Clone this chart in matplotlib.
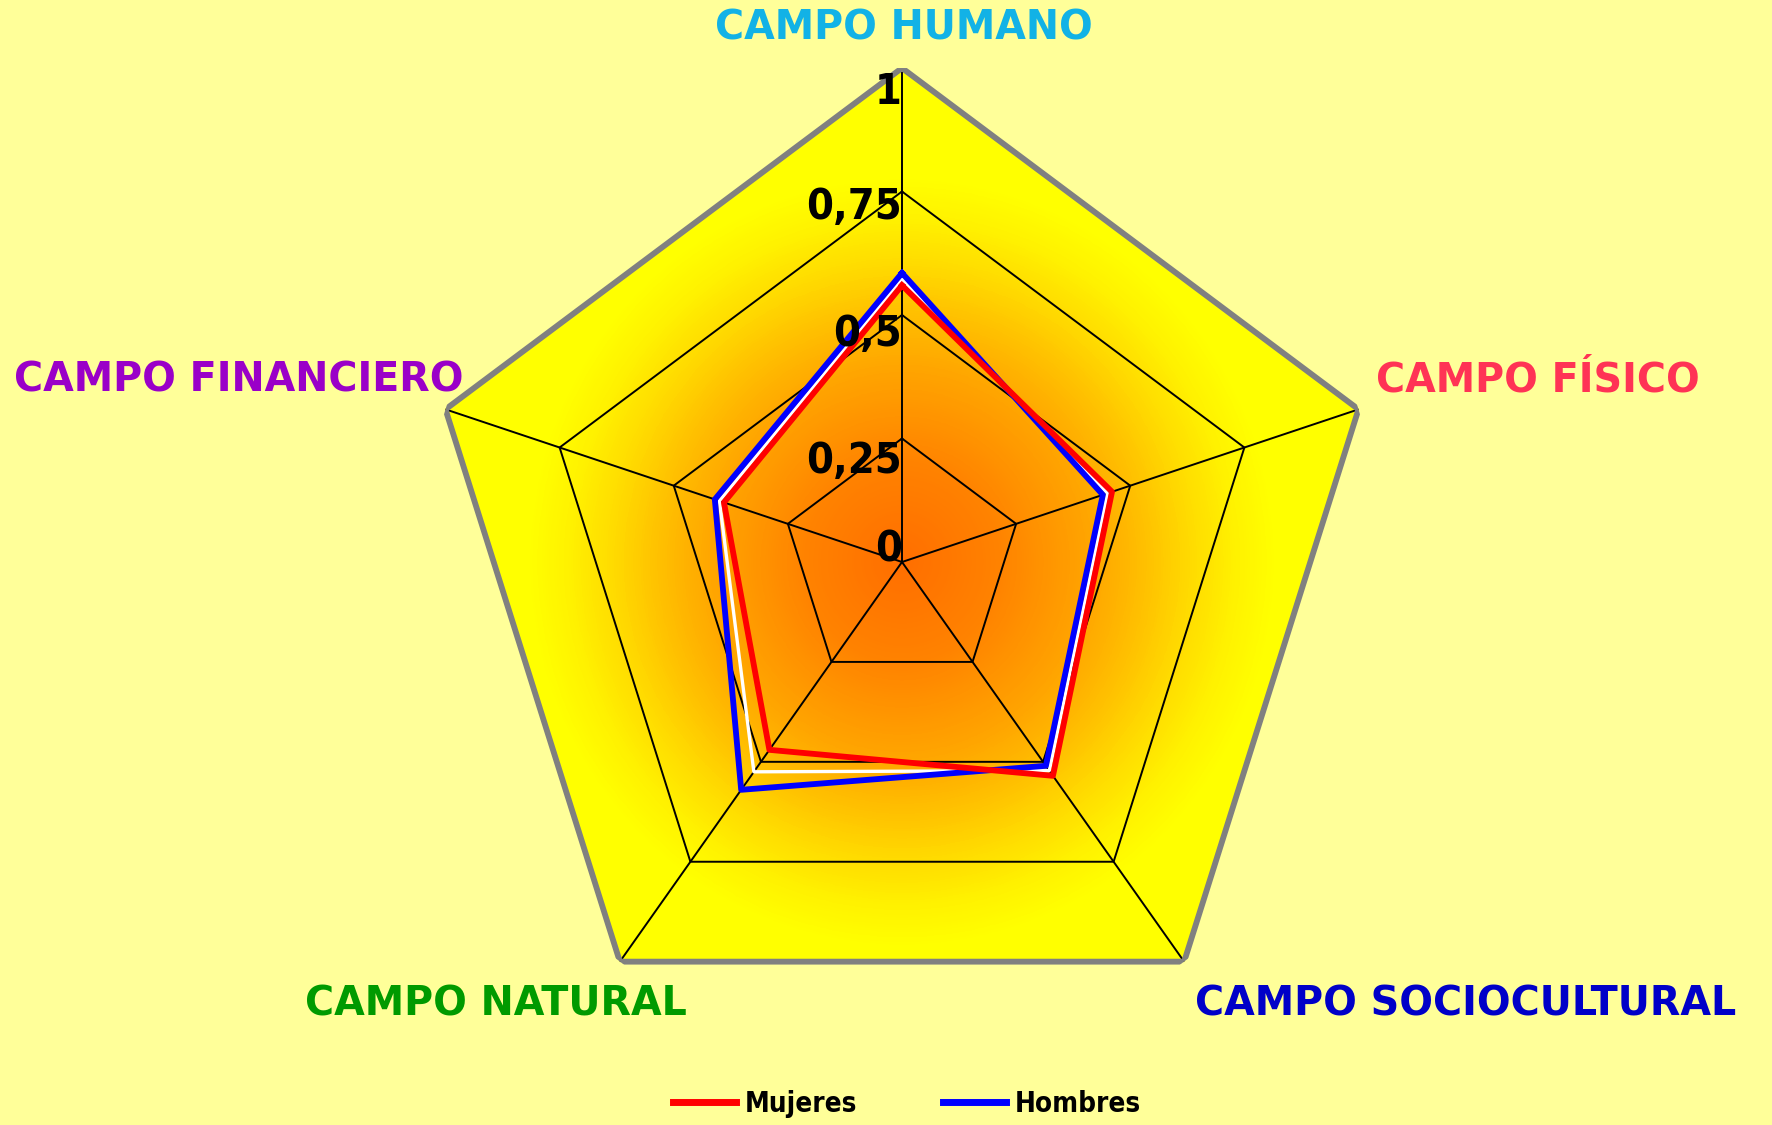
import numpy as np
import matplotlib
matplotlib.use("Agg")
import matplotlib.pyplot as plt
from matplotlib.colors import LinearSegmentedColormap
from matplotlib.patches import Polygon
from matplotlib.lines import Line2D

# ---------------- data ----------------
categories = ["CAMPO HUMANO", "CAMPO FÍSICO", "CAMPO SOCIOCULTURAL",
              "CAMPO NATURAL", "CAMPO FINANCIERO"]
cat_colors = ["#12B2E6", "#FF3355", "#0000C8", "#009A00", "#9A00C8"]
mujeres = [0.56, 0.46, 0.535, 0.47, 0.39]
hombres = [0.585, 0.44, 0.51, 0.57, 0.41]
total = [0.572, 0.45, 0.522, 0.525, 0.40]
ring_levels = [0.25, 0.5, 0.75, 1.0]
tick_labels = ["0", "0,25", "0,5", "0,75", "1"]
tick_values = [0, 0.25, 0.5, 0.75, 1.0]

W, H = 1772, 1125
fig = plt.figure(figsize=(W / 100, H / 100), dpi=100, facecolor="#FFFF99")

cx, cy = 902, 562          # centre in pixels (from top)
Rv, Rh = 494, 480          # vertical / horizontal radius in pixels
ax = fig.add_axes([(cx - Rh) / W, (H - cy - Rv) / H, 2 * Rh / W, 2 * Rv / H],
                  projection="polar")
ax.set_aspect("auto")
ax.set_theta_zero_location("N")
ax.set_theta_direction(-1)
ax.set_ylim(0, 1)
ax.patch.set_alpha(0)
ax.spines["polar"].set_visible(False)
ax.grid(False)
ax.set_xticks([])
ax.set_yticks([])

n = len(categories)
angles = np.linspace(0, 2 * np.pi, n, endpoint=False)
ang_c = np.append(angles, angles[0])

# gradient fill clipped to the outer pentagon
cmap = LinearSegmentedColormap.from_list(
    "g", [(0.0, "#FF6E00"), (0.2, "#FF8200"), (0.4, "#FFA600"),
          (0.5, "#FFBE00"), (0.6, "#FFDA00"), (0.7, "#FFF200"),
          (0.78, "#FFFF00"), (1.0, "#FFFF00")])
tg = np.linspace(0, 2 * np.pi, 361)
rg = np.linspace(0, 1, 201)
T, Rr = np.meshgrid(tg, rg)
C = (Rr[:-1, :-1] + Rr[1:, 1:]) / 2
mesh = ax.pcolormesh(T, Rr, C, cmap=cmap, vmin=0, vmax=1, shading="flat",
                     zorder=0, rasterized=True)
clip = Polygon(np.column_stack([ang_c, np.ones(n + 1)]), closed=True,
               transform=ax.transData, facecolor="none", edgecolor="none")
ax.add_patch(clip)
mesh.set_clip_path(clip)

# grid rings
for lv in ring_levels[:-1]:
    ax.plot(ang_c, [lv] * (n + 1), color="black", lw=1.4, zorder=2)
ax.plot(ang_c, [1.0] * (n + 1), color="#808080", lw=4.2, zorder=3,
        solid_joinstyle="miter")
for a in angles:
    ax.plot([a, a], [0, 1], color="black", lw=1.4, zorder=2)

# series
ax.plot(ang_c, total + total[:1], color="white", lw=2.4, zorder=4)
lb, = ax.plot(ang_c, hombres + hombres[:1], color="#0000FF", lw=4.2, zorder=5)
lr, = ax.plot(ang_c, mujeres + mujeres[:1], color="#FF0000", lw=4.2, zorder=6)

# tick labels on the top axis
tick_r = [0.025, 0.205, 0.462, 0.718, 0.952]
for lab, rr in zip(tick_labels, tick_r):
    ax.text(0, rr, lab, ha="right", va="center", fontsize=31,
            fontweight="bold", family="DejaVu Sans", fontstretch="condensed",
            color="black", zorder=7)

# category labels
label_pos = [(904, 29, "center"), (1376, 380, "left"), (1195, 1005, "left"),
             (687, 1005, "right"), (463, 380, "right")]
for cat, col, (px, py, ha) in zip(categories, cat_colors, label_pos):
    fig.text(px / W, 1 - py / H, cat, ha=ha, va="center", fontsize=28.5,
             fontweight="bold", family="DejaVu Sans", color=col)

# legend
fs = 20
fig.legend([Line2D([], [], color="#FF0000", lw=5),
            Line2D([], [], color="#0000FF", lw=5)],
           ["Mujeres", "Hombres"], loc="center",
           bbox_to_anchor=(907 / W, 1 - 1104 / H), ncol=2, frameon=False,
           prop={"family": "DejaVu Sans", "weight": "bold", "size": fs,
                 "stretch": "condensed"},
           handlelength=2.27, handletextpad=0.3, columnspacing=3.1)

fig.savefig("out.png", dpi=100, facecolor=fig.get_facecolor())
